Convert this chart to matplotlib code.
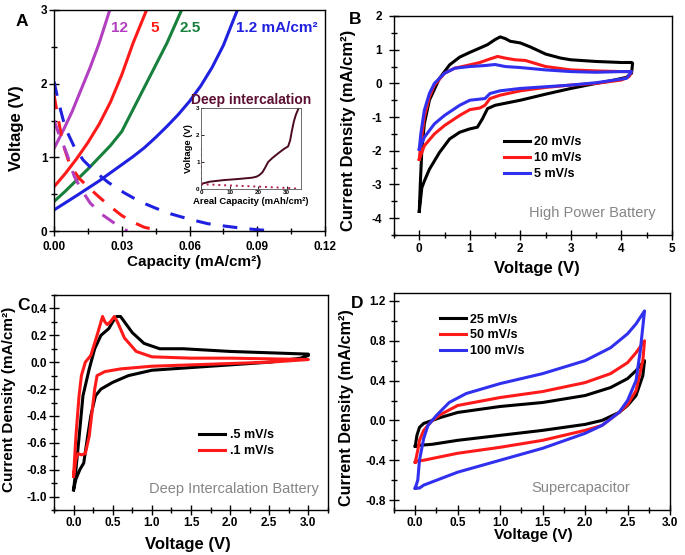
import matplotlib
matplotlib.use('Agg')
import matplotlib.pyplot as plt
from matplotlib.ticker import MultipleLocator, FormatStrFormatter

plt.rcParams['font.family'] = ['Liberation Sans', 'DejaVu Sans']
plt.rcParams['font.weight'] = 'bold'
plt.rcParams['axes.labelweight'] = 'bold'
plt.rcParams['axes.unicode_minus'] = False

# ---------------- Panel A : galvanostatic charge/discharge ----------------
a_labels = ['12', '5', '2.5', '1.2 mA/cm²']
a_colors = ['#b23fc0', '#ff1a1a', '#17803c', '#2020e0']
a_ch_x_12 = [0, 0.004, 0.008, 0.012, 0.016, 0.020, 0.0247]
a_ch_v_12 = [1.12, 1.36, 1.62, 1.92, 2.22, 2.55, 3.0]
a_ch_x_5 = [0, 0.005, 0.010, 0.015, 0.020, 0.025, 0.030, 0.035, 0.041]
a_ch_v_5 = [0.60, 0.78, 0.98, 1.20, 1.45, 1.75, 2.12, 2.55, 3.0]
a_ch_x_25 = [0, 0.005, 0.010, 0.015, 0.020, 0.025, 0.030, 0.035, 0.040, 0.045, 0.050, 0.0565]
a_ch_v_25 = [0.40, 0.54, 0.69, 0.84, 1.00, 1.16, 1.35, 1.65, 1.95, 2.25, 2.55, 3.0]
a_ch_x_12b = [0, 0.010, 0.020, 0.030, 0.035, 0.040, 0.045, 0.050, 0.055, 0.060, 0.065, 0.070, 0.075, 0.0812]
a_ch_v_12b = [0.285, 0.48, 0.68, 0.90, 1.01, 1.13, 1.27, 1.42, 1.58, 1.76, 1.97, 2.22, 2.52, 3.0]

a_dis_x_12 = [0, 0.002, 0.004, 0.006, 0.009, 0.012, 0.016, 0.021, 0.027, 0.0325]
a_dis_v_12 = [1.50, 1.33, 1.18, 1.02, 0.74, 0.57, 0.38, 0.23, 0.10, 0.0]
a_dis_x_5 = [0, 0.002, 0.004, 0.007, 0.011, 0.015, 0.020, 0.025, 0.030, 0.035, 0.040, 0.0475]
a_dis_v_5 = [1.85, 1.50, 1.18, 0.90, 0.72, 0.60, 0.46, 0.33, 0.21, 0.12, 0.05, 0.0]
a_dis_x_12b = [0, 0.002, 0.005, 0.009, 0.013, 0.018, 0.024, 0.031, 0.038, 0.045, 0.052, 0.060, 0.068, 0.076, 0.084, 0.091, 0.098]
a_dis_v_12b = [2.03, 1.75, 1.40, 1.14, 0.96, 0.81, 0.66, 0.52, 0.40, 0.31, 0.23, 0.16, 0.10, 0.065, 0.035, 0.015, 0.0]

# inset: deep intercalation
in_ch_x = [0, 0.5, 3, 8, 13, 18, 19.5, 20.5, 21.5, 22.5, 23.5, 25, 27, 29, 30.5, 31.2, 31.8, 32.5, 33.2, 34.2]
in_ch_v = [0.12, 0.20, 0.27, 0.33, 0.37, 0.42, 0.46, 0.52, 0.62, 0.80, 1.00, 1.15, 1.32, 1.48, 1.58, 1.80, 2.15, 2.50, 2.75, 3.0]
in_dis_x = [0, 0, 0, 2, 10, 20, 30, 34]
in_dis_v = [1.5, 0.8, 0.2, 0.17, 0.13, 0.09, 0.04, 0.01]

# ---------------- Panel B : high power battery CV ----------------
b_labels = ['20 mV/s', '10 mV/s', '5 mV/s']
b_colors = ['#000000', '#ff1a1a', '#3030ee']
b20_v = [0, 0.02, 0.05, 0.1, 0.2, 0.4, 0.6, 0.8, 1.0, 1.2, 1.35, 1.5, 1.6, 1.7, 1.8, 2.0, 2.2, 2.5, 2.8, 3.0, 3.5, 4.0, 4.2, 4.22,
         4.2, 4.1, 3.8, 3.5, 3.0, 2.5, 2.0, 1.5, 1.35, 1.25, 1.15, 1.0, 0.8, 0.6, 0.4, 0.2, 0.1, 0.05, 0.0]
b20_i = [-3.8, -3.0, -2.0, -1.2, -0.5, 0.15, 0.55, 0.78, 0.92, 1.05, 1.15, 1.3, 1.38, 1.33, 1.25, 1.2, 1.08, 0.87, 0.75, 0.7, 0.65, 0.62, 0.62, 0.6,
         0.3, 0.18, 0.08, 0.0, -0.15, -0.32, -0.5, -0.65, -0.75, -1.05, -1.3, -1.35, -1.45, -1.65, -2.05, -2.55, -2.9, -3.1, -3.8]
b10_v = [0, 0.03, 0.1, 0.2, 0.3, 0.5, 0.7, 1.0, 1.2, 1.35, 1.55, 1.7, 1.9, 2.1, 2.5, 3.0, 3.5, 4.0, 4.2,
         4.15, 4.0, 3.5, 3.0, 2.5, 2.0, 1.6, 1.4, 1.3, 1.2, 1.0, 0.8, 0.5, 0.3, 0.1, 0.0]
b10_i = [-2.25, -1.8, -1.0, -0.4, -0.05, 0.3, 0.45, 0.55, 0.62, 0.7, 0.8, 0.75, 0.7, 0.68, 0.5, 0.4, 0.37, 0.35, 0.35,
         0.2, 0.1, 0.0, -0.05, -0.12, -0.22, -0.35, -0.45, -0.65, -0.73, -0.78, -0.95, -1.25, -1.5, -1.85, -2.25]
b5_v = [0, 0.03, 0.1, 0.2, 0.3, 0.5, 0.7, 1.0, 1.3, 1.5, 1.7, 2.0, 2.5, 3.0, 3.5, 4.0, 4.2,
        4.1, 3.5, 3.0, 2.5, 2.0, 1.6, 1.4, 1.3, 1.0, 0.8, 0.5, 0.3, 0.1, 0.0]
b5_i = [-1.95, -1.5, -0.8, -0.3, 0.0, 0.3, 0.45, 0.5, 0.53, 0.56, 0.5, 0.47, 0.4, 0.35, 0.33, 0.35, 0.35,
        0.15, 0.02, -0.05, -0.1, -0.15, -0.22, -0.3, -0.45, -0.5, -0.65, -0.95, -1.2, -1.6, -1.95]

# ---------------- Panel C : deep intercalation battery CV ----------------
c_labels = ['.5 mV/s', '.1 mV/s']
c_colors = ['#000000', '#ff1a1a']
c5_v = [0, 0.03, 0.08, 0.12, 0.2, 0.27, 0.35, 0.45, 0.52, 0.55, 0.6, 0.65, 0.75, 0.9, 1.1, 1.4, 1.7, 2.0, 2.5, 3.0,
        3.0, 2.9, 2.5, 2.0, 1.5, 1.0, 0.7, 0.5, 0.35, 0.28, 0.22, 0.18, 0.13, 0.08, 0.03, 0.0]
c5_i = [-0.95, -0.8, -0.5, -0.25, -0.05, 0.1, 0.2, 0.25, 0.32, 0.34, 0.34, 0.3, 0.22, 0.14, 0.1, 0.1, 0.09, 0.08, 0.07, 0.06,
        0.05, 0.03, 0.0, -0.02, -0.04, -0.06, -0.1, -0.15, -0.2, -0.25, -0.4, -0.55, -0.75, -0.8, -0.87, -0.95]
c1_v = [0, 0.03, 0.07, 0.1, 0.15, 0.22, 0.3, 0.35, 0.37, 0.4, 0.43, 0.47, 0.52, 0.56, 0.65, 0.8, 1.0, 1.5, 2.0, 2.5, 3.0,
        2.5, 2.0, 1.5, 1.0, 0.6, 0.4, 0.3, 0.27, 0.24, 0.2, 0.15, 0.1, 0.06, 0.03, 0.0]
c1_i = [-0.85, -0.55, -0.25, -0.1, 0.0, 0.05, 0.2, 0.3, 0.34, 0.3, 0.28, 0.3, 0.34, 0.3, 0.18, 0.08, 0.04, 0.03, 0.03, 0.025, 0.02,
        0.0, -0.01, -0.02, -0.03, -0.05, -0.07, -0.1, -0.2, -0.35, -0.55, -0.68, -0.69, -0.68, -0.72, -0.85]

# ---------------- Panel D : supercapacitor CV ----------------
d_labels = ['25 mV/s', '50 mV/s', '100 mV/s']
d_colors = ['#000000', '#ff1a1a', '#3030ee']
d25_v = [0, 0.02, 0.05, 0.1, 0.2, 0.3, 0.5, 1.0, 1.5, 2.0, 2.3, 2.5, 2.6, 2.68, 2.7,
         2.68, 2.6, 2.5, 2.4, 2.2, 2.0, 1.5, 1.0, 0.5, 0.2, 0.05, 0.0]
d25_i = [-0.26, -0.15, -0.07, -0.03, 0.0, 0.03, 0.08, 0.14, 0.18, 0.25, 0.33, 0.42, 0.5, 0.58, 0.6,
         0.45, 0.25, 0.15, 0.08, 0.0, -0.04, -0.1, -0.15, -0.2, -0.24, -0.25, -0.26]
d50_v = [0, 0.03, 0.05, 0.1, 0.2, 0.3, 0.5, 1.0, 1.5, 2.0, 2.3, 2.5, 2.6, 2.7,
         2.68, 2.6, 2.5, 2.4, 2.2, 2.0, 1.5, 1.0, 0.5, 0.1, 0.02, 0.0]
d50_i = [-0.42, -0.3, -0.2, -0.1, 0.0, 0.06, 0.15, 0.23, 0.29, 0.38, 0.47, 0.58, 0.68, 0.8,
         0.6, 0.3, 0.16, 0.08, -0.05, -0.1, -0.2, -0.27, -0.33, -0.4, -0.41, -0.42]
d100_v = [0, 0.03, 0.05, 0.1, 0.15, 0.25, 0.4, 0.6, 1.0, 1.5, 2.0, 2.3, 2.5, 2.6, 2.7,
          2.65, 2.6, 2.5, 2.4, 2.2, 2.0, 1.5, 1.0, 0.5, 0.1, 0.05, 0.0]
d100_i = [-0.68, -0.6, -0.4, -0.18, -0.05, 0.05, 0.18, 0.27, 0.37, 0.47, 0.6, 0.73, 0.87, 0.97, 1.1,
          0.7, 0.4, 0.2, 0.08, -0.05, -0.13, -0.28, -0.4, -0.52, -0.65, -0.68, -0.68]

# ---------------- figure ----------------
W, H = 685, 555
fig = plt.figure(figsize=(6.85, 5.55), dpi=100)

def rect(l, t, r, b):
    return [l / W, 1 - b / H, (r - l) / W, (b - t) / H]

axA = fig.add_axes(rect(54, 10, 325, 231))
axB = fig.add_axes(rect(394, 16, 672, 235))
axC = fig.add_axes(rect(54, 295, 328, 510))
axD = fig.add_axes(rect(394, 293, 670, 510))
axI = fig.add_axes(rect(201, 108, 301, 189))

LW = 2.2
TICK = 8.5
GRAY = '#858585'

def style(ax, xmaj, xmin, ymaj, ymin, xfmt, yfmt, xpad, ypad):
    ax.xaxis.set_major_locator(MultipleLocator(xmaj))
    ax.xaxis.set_minor_locator(MultipleLocator(xmin))
    ax.yaxis.set_major_locator(MultipleLocator(ymaj))
    ax.yaxis.set_minor_locator(MultipleLocator(ymin))
    ax.xaxis.set_major_formatter(FormatStrFormatter(xfmt))
    ax.yaxis.set_major_formatter(FormatStrFormatter(yfmt))
    ax.tick_params(which='major', direction='inout', length=7, width=1.0, labelsize=TICK)
    ax.tick_params(which='minor', direction='inout', length=4, width=1.0)
    ax.tick_params(which='both', top=False, right=False)
    ax.tick_params(axis='x', which='major', pad=xpad)
    ax.tick_params(axis='y', which='major', pad=ypad)
    for s in ax.spines.values():
        s.set_linewidth(1.0)

def leg(ax, anchor):
    ax.legend(loc='upper left', bbox_to_anchor=anchor, frameon=False, fontsize=9,
              borderpad=0, borderaxespad=0, handletextpad=0.35, labelspacing=0.3, handlelength=2.1)

# Panel A
dash = (0, (4.8, 4))
for xs, vs, c in [(a_ch_x_12, a_ch_v_12, a_colors[0]), (a_ch_x_5, a_ch_v_5, a_colors[1]),
                  (a_ch_x_25, a_ch_v_25, a_colors[2]), (a_ch_x_12b, a_ch_v_12b, a_colors[3])]:
    axA.plot(xs, vs, color=c, lw=LW, solid_capstyle='butt')
for xs, vs, c in [(a_dis_x_12b, a_dis_v_12b, a_colors[3]), (a_dis_x_5, a_dis_v_5, a_colors[1]),
                  (a_dis_x_12, a_dis_v_12, a_colors[0])]:
    axA.plot(xs, vs, color=c, lw=LW, ls=dash)
axA.set_xlim(0, 0.12)
axA.set_ylim(0, 3)
style(axA, 0.03, 0.015, 1, 0.5, '%.2f', '%d', 4.0, 1.2)
axA.set_xlabel('Capacity (mA/cm²)', fontsize=11)
axA.set_ylabel('Voltage (V)', fontsize=12)
axA.xaxis.set_label_coords(0.517, -0.11)
axA.yaxis.set_label_coords(-0.112, 0.466)
for txt, c, xp, ha in zip(a_labels, a_colors, [119, 155, 190, 236], ['center', 'center', 'center', 'left']):
    fig.text(xp / W, 1 - 28 / H, txt, color=c, fontsize=11, ha=ha, va='center')
fig.text(22 / W, 1 - 22 / H, 'A', fontsize=12.5, ha='center', va='center')

# inset
axI.plot(in_ch_x, in_ch_v, color='#4a0a22', lw=1.4)
axI.plot(in_dis_x, in_dis_v, color='#b0204a', lw=1.4, ls=(0, (1, 2)))
axI.set_xlim(0, 35)
axI.set_ylim(0, 3)
axI.xaxis.set_major_locator(MultipleLocator(10))
axI.yaxis.set_major_locator(MultipleLocator(1))
axI.tick_params(which='major', direction='in', length=2, width=0.6, labelsize=4.5, pad=1)
for s in axI.spines.values():
    s.set_linewidth(0.6)
    s.set_color('#555555')
axI.set_xlabel('Areal Capacity (mAh/cm²)', fontsize=6.8, labelpad=1)
axI.set_ylabel('Voltage (V)', fontsize=6.8, labelpad=2)
axI.set_title('Deep intercalation', fontsize=10, color='#5c1034', weight='bold', pad=3)

# Panel B
for vs, cs, c, lab in [(b20_v, b20_i, b_colors[0], b_labels[0]), (b10_v, b10_i, b_colors[1], b_labels[1]),
                       (b5_v, b5_i, b_colors[2], b_labels[2])]:
    axB.plot(vs, cs, color=c, lw=LW, label=lab)
axB.set_xlim(-0.5, 5)
axB.set_ylim(-4.5, 2)
style(axB, 1, 0.5, 1, 0.5, '%d', '%d', 2.3, 5.0)
axB.set_xlabel('Voltage (V)', fontsize=12)
axB.set_ylabel('Current Density (mA/cm²)', fontsize=12)
axB.xaxis.set_label_coords(0.513, -0.12)
axB.yaxis.set_label_coords(-0.135, 0.48)
leg(axB, (0.395, 0.45))
axB.text(0.94, 0.10, 'High Power Battery', transform=axB.transAxes, ha='right', va='center',
         fontsize=10.5, color=GRAY, weight='normal')
fig.text(355 / W, 1 - 20 / H, 'B', fontsize=12.5, ha='center', va='center')

# Panel C
for vs, cs, c, lab in [(c5_v, c5_i, c_colors[0], c_labels[0]), (c1_v, c1_i, c_colors[1], c_labels[1])]:
    axC.plot(vs, cs, color=c, lw=LW, label=lab)
axC.set_xlim(-0.25, 3.25)
axC.set_ylim(-1.1, 0.5)
style(axC, 0.5, 0.25, 0.2, 0.1, '%.1f', '%.1f', 1.2, 1.8)
axC.set_xlabel('Voltage (V)', fontsize=12)
axC.set_ylabel('Current Density (mA/cm²)', fontsize=11)
axC.xaxis.set_label_coords(0.489, -0.125)
axC.yaxis.set_label_coords(-0.14, 0.515)
leg(axC, (0.53, 0.375))
axC.text(0.965, 0.10, 'Deep Intercalation Battery', transform=axC.transAxes, ha='right', va='center',
         fontsize=10.5, color=GRAY, weight='normal')
fig.text(23 / W, 1 - 306 / H, 'C', fontsize=12.5, ha='center', va='center')

# Panel D
for vs, cs, c, lab in [(d25_v, d25_i, d_colors[0], d_labels[0]), (d50_v, d50_i, d_colors[1], d_labels[1]),
                       (d100_v, d100_i, d_colors[2], d_labels[2])]:
    axD.plot(vs, cs, color=c, lw=LW, label=lab)
axD.set_xlim(-0.25, 3.0)
axD.set_ylim(-0.9, 1.28)
style(axD, 0.5, 0.25, 0.4, 0.2, '%.1f', '%.1f', 1.2, 2.5)
axD.set_xlabel('Voltage (V)', fontsize=11)
axD.set_ylabel('Current Density (mA/cm²)', fontsize=11.7)
axD.xaxis.set_label_coords(0.504, -0.085)
axD.yaxis.set_label_coords(-0.145, 0.47)
leg(axD, (0.165, 0.905))
axD.text(0.855, 0.10, 'Supercapacitor', transform=axD.transAxes, ha='right', va='center',
         fontsize=10.5, color=GRAY, weight='normal')
fig.text(357 / W, 1 - 303 / H, 'D', fontsize=12.5, ha='center', va='center')

fig.savefig('out.png', dpi=100)
